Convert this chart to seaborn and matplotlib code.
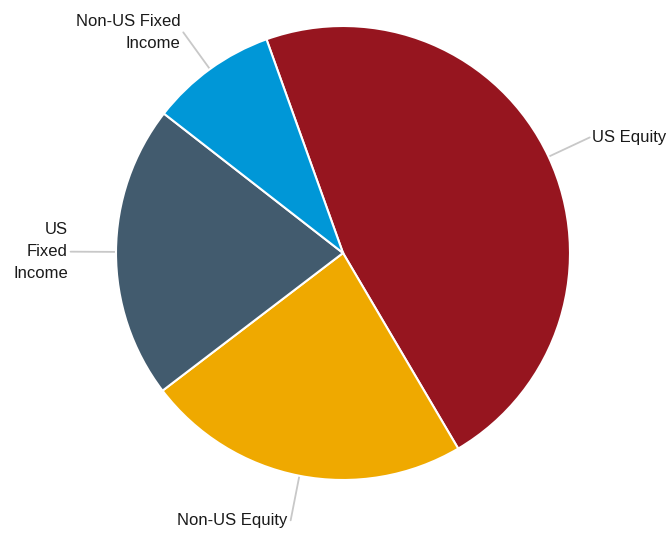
import numpy as np
import matplotlib
matplotlib.use("Agg")
import matplotlib.pyplot as plt
import seaborn as sns

categories = ["US Equity", "Non-US Equity", "US\nFixed\nIncome", "Non-US Fixed\nIncome"]
values = [47.0, 23.1, 20.9, 9.0]
colors = ["#96151F", "#EFA900", "#425B6E", "#0097D7"]

sns.set_style("white")
plt.rcParams["font.family"] = ["Liberation Sans Narrow", "Liberation Sans", "DejaVu Sans"]

W, H = 671, 533
fig = plt.figure(figsize=(W / 100, H / 100), dpi=100)
ax = fig.add_axes([0, 0, 1, 1])
ax.set_xlim(0, W)
ax.set_ylim(0, H)
ax.set_aspect("equal")
ax.axis("off")

cx, cy, R = 343, 280, 227
wedges, _ = ax.pie(values, colors=colors, startangle=109.7, counterclock=False,
                   center=(cx, cy), radius=R,
                   wedgeprops=dict(edgecolor="white", linewidth=1.5))
ax.set_xlim(0, W)
ax.set_ylim(0, H)

for w, lab in zip(wedges, categories):
    ang = np.deg2rad((w.theta1 + w.theta2) / 2)
    x0, y0 = cx + R * np.cos(ang), cy + R * np.sin(ang)
    x1, y1 = cx + 1.2 * R * np.cos(ang), cy + 1.2 * R * np.sin(ang)
    ax.plot([x0, x1], [y0, y1], color="#c8c8c8", lw=1.3, zorder=0)
    right = np.cos(ang) > 0
    ax.annotate(lab, (x1, y1), xytext=(2 if right else -2, 0), textcoords="offset points",
                ha="left" if right else "right", va="center", fontsize=12,
                color="#1a1a1a", linespacing=1.6,
                multialignment="left" if right else "right")

fig.savefig("out.png", dpi=100)
